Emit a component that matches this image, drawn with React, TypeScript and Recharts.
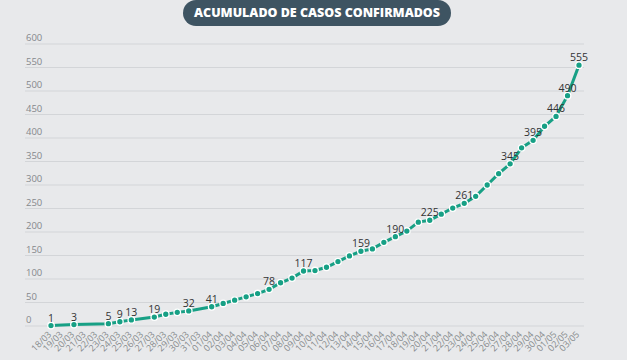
import React from 'react';
import { LineChart, Line, XAxis, YAxis, CartesianGrid, LabelList } from 'recharts';

const dates = [
  '18/03', '19/03', '20/03', '21/03', '22/03', '23/03', '24/03', '25/03', '26/03', '27/03',
  '28/03', '29/03', '30/03', '31/03', '01/04', '02/04', '03/04', '04/04', '05/04', '06/04',
  '07/04', '08/04', '09/04', '10/04', '11/04', '12/04', '13/04', '14/04', '15/04', '16/04',
  '17/04', '18/04', '19/04', '20/04', '21/04', '22/04', '23/04', '24/04', '25/04', '26/04',
  '27/04', '28/04', '29/04', '30/04', '01/05', '02/05', '03/05',
];

const casos: (number | null)[] = [
  1, null, 3, null, null, 5, 9, 13, null, 19,
  25, 29, 32, null, 41, 48, 55, 62, 69, 78,
  92, 102, 117, 118, 125, 137, 149, 159, 164, 178,
  190, 202, 221, 225, 238, 251, 261, 276, 300, 324,
  345, 379, 395, 425, 446, 490, 555,
];

const labeledDates = [
  '18/03', '20/03', '23/03', '24/03', '25/03', '27/03', '30/03', '01/04', '06/04', '09/04',
  '14/04', '17/04', '20/04', '23/04', '27/04', '29/04', '01/05', '02/05', '03/05',
];

const yTicks = [0, 50, 100, 150, 200, 250, 300, 350, 400, 450, 500, 550, 600];

const title = 'ACUMULADO DE CASOS CONFIRMADOS';

const data = dates.map((d, i) => ({
  date: d,
  casos: casos[i],
  labelText: labeledDates.includes(d) && casos[i] != null ? String(casos[i]) : null,
}));

const TEAL = '#17a085';
const BG = '#e8e9eb';

const YTick = (props: any) => {
  const { y, payload } = props;
  return (
    <text x={26} y={y - 3} fontSize={9.5} fill="#85888b" fontFamily="'Open Sans', sans-serif" textAnchor="start">
      {payload.value}
    </text>
  );
};

const XTick = (props: any) => {
  const { x, y, payload } = props;
  const ax = x + 1;
  const ay = y + 1;
  return (
    <text
      x={ax}
      y={ay}
      fontSize={9}
      fill="#86898c"
      fontFamily="'Open Sans', sans-serif"
      textAnchor="end"
      transform={`rotate(-45, ${ax}, ${ay})`}
    >
      {payload.value}
    </text>
  );
};

const DataLabel = (props: any) => {
  const { x, y, value } = props;
  if (value == null || x == null || y == null) return null;
  return (
    <text x={x} y={y - 4} fontSize={10.5} fill="#333" fontFamily="'Open Sans', sans-serif" textAnchor="middle">
      {value}
    </text>
  );
};

export default function App() {
  return (
    <div style={{ position: 'fixed', left: 0, top: 0, width: 627, height: 360, background: BG, overflow: 'hidden' }}>
      <svg width={627} height={30} style={{ position: 'absolute', left: 0, top: 0 }}>
        <rect x={183} y={0} width={268} height={26} rx={13} ry={13} fill="#3e5462" />
        <text
          x={317}
          y={17}
          fontSize={12}
          fontWeight={800}
          fill="#ffffff"
          textAnchor="middle"
          fontFamily="'Open Sans', sans-serif"
          textLength={246}
          lengthAdjust="spacingAndGlyphs"
        >
          {title}
        </text>
      </svg>
      <div style={{ position: 'absolute', left: 0, top: 0 }}>
        <LineChart width={627} height={360} data={data} margin={{ top: 44, right: 43, left: 0, bottom: 0 }}>
          <CartesianGrid horizontal vertical={false} stroke="#d3d5d8" strokeWidth={1} />
          <XAxis
            dataKey="date"
            scale="point"
            interval={0}
            padding={{ left: 26, right: 5 }}
            axisLine={false}
            tickLine={false}
            height={34}
            tick={<XTick />}
          />
          <YAxis
            width={25}
            domain={[0, 600]}
            ticks={yTicks}
            axisLine={false}
            tickLine={false}
            tick={<YTick />}
          />
          <Line
            type="linear"
            dataKey="casos"
            stroke={TEAL}
            strokeWidth={3}
            connectNulls
            isAnimationActive={false}
            dot={{ r: 3.3, fill: TEAL, stroke: '#ffffff', strokeWidth: 1.3 }}
            activeDot={false}
          >
            <LabelList dataKey="labelText" content={<DataLabel />} />
          </Line>
        </LineChart>
      </div>
    </div>
  );
}
